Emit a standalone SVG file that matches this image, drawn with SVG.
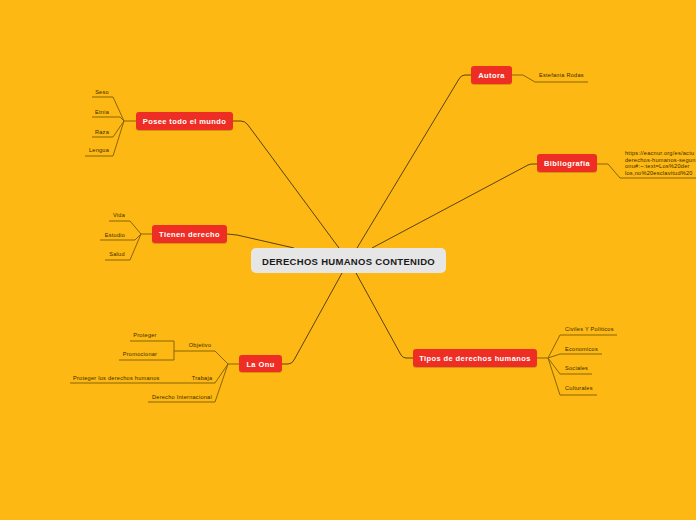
<svg xmlns="http://www.w3.org/2000/svg" width="696" height="520" viewBox="0 0 696 520">
<style>
.bg{fill:#fdb813}
.main{fill:none;stroke:#5a4310;stroke-width:1}
.sub{fill:none;stroke:#8a6508;stroke-width:1}
.box{fill:#ee2e24}
.shadow{fill:#c98d10;opacity:0.8}
.lbl{font-family:"Liberation Sans",Arial,sans-serif;font-weight:bold;font-size:7.5px;letter-spacing:0.4px;fill:#ffffff;text-anchor:middle}
.ctr{font-family:"Liberation Sans",Arial,sans-serif;font-weight:bold;font-size:9.5px;letter-spacing:0.3px;fill:#1a1a1a;text-anchor:middle}
.leaf{font-family:"Liberation Sans",Arial,sans-serif;font-size:5.6px;letter-spacing:0.25px;fill:#3a2a00}
.mid{text-anchor:middle}
</style>
<rect class="bg" x="0" y="0" width="696" height="520"/>
<g id="connectors">
  <path class="main" d="M233,121 L241,121 Q245,121 248,125 L339,248"/>
  <path class="main" d="M227,234 L237,235 L294,248"/>
  <path class="main" d="M342,273 L294,360 Q292,364 288,364 L282,364"/>
  <path class="main" d="M357,248 L459,79 Q461,75 465,75 L471,75"/>
  <path class="main" d="M372,248 L528,165 Q530,164 533,164 L537,164"/>
  <path class="main" d="M356,273 L401,355 Q403,358 406,358 L413,358"/>
  <path class="sub" d="M136,121 L124,121"/>
  <path class="sub" d="M124,121 L113,97 L92,97"/>
  <path class="sub" d="M124,121 L120,117 L92,117"/>
  <path class="sub" d="M124,121 L113,137 L92,137"/>
  <path class="sub" d="M124,121 L113,156 L85,156"/>
  <path class="sub" d="M152,234 L141,234"/>
  <path class="sub" d="M141,234 L130,221 L109,221"/>
  <path class="sub" d="M141,234 L135,240 L100,240"/>
  <path class="sub" d="M141,234 L130,260 L105,260"/>
  <path class="sub" d="M239,364 L228,364"/>
  <path class="sub" d="M228,364 L215,351 L185,351"/>
  <path class="sub" d="M185,351 L174,351"/>
  <path class="sub" d="M174,341 L174,360"/>
  <path class="sub" d="M174,341 L130,341"/>
  <path class="sub" d="M174,360 L119,360"/>
  <path class="sub" d="M228,364 L215,383 L70,383"/>
  <path class="sub" d="M228,364 L215,402 L148,402"/>
  <path class="sub" d="M512,75 L523,75 L535,82 L588,82"/>
  <path class="sub" d="M597,164 L608,164 L620,178 L696,178"/>
  <path class="sub" d="M537,358 L548,358"/>
  <path class="sub" d="M548,358 L560,335 L617,335"/>
  <path class="sub" d="M548,358 L560,354 L602,354"/>
  <path class="sub" d="M548,358 L560,374 L592,374"/>
  <path class="sub" d="M548,358 L560,395 L597,395"/>
</g>
<g id="center">
  <rect x="251" y="248" width="195" height="25" rx="5" fill="#e6e6e6"/>
  <text class="ctr" x="348.5" y="264.5">DERECHOS HUMANOS CONTENIDO</text>
</g>
<g id="posee">
  <rect class="shadow" x="136" y="113" width="97" height="18" rx="3"/>
  <rect class="box" x="136" y="112" width="97" height="18" rx="3"/>
  <text class="lbl" x="184.5" y="124">Posee todo el mundo</text>
</g>
<g id="tienen">
  <rect class="shadow" x="152" y="226" width="75" height="18" rx="3"/>
  <rect class="box" x="152" y="225" width="75" height="18" rx="3"/>
  <text class="lbl" x="189.5" y="237">Tienen derecho</text>
</g>
<g id="onu">
  <rect class="shadow" x="239" y="356" width="43" height="17" rx="3"/>
  <rect class="box" x="239" y="355" width="43" height="17" rx="3"/>
  <text class="lbl" x="260.5" y="366.5">La Onu</text>
</g>
<g id="autora">
  <rect class="shadow" x="471" y="67" width="41" height="18" rx="3"/>
  <rect class="box" x="471" y="66" width="41" height="18" rx="3"/>
  <text class="lbl" x="491.5" y="78">Autora</text>
</g>
<g id="bibliografia">
  <rect class="shadow" x="537" y="155" width="60" height="18" rx="3"/>
  <rect class="box" x="537" y="154" width="60" height="18" rx="3"/>
  <text class="lbl" x="567" y="166">Bibliografia</text>
</g>
<g id="tipos">
  <rect class="shadow" x="413" y="350" width="124" height="18" rx="3"/>
  <rect class="box" x="413" y="349" width="124" height="18" rx="3"/>
  <text class="lbl" x="475" y="361">Tipos de derechos humanos</text>
</g>
<g id="leaves">
  <text class="leaf mid" x="102" y="94">Seso</text>
  <text class="leaf mid" x="102" y="114">Etnia</text>
  <text class="leaf mid" x="102" y="134">Raza</text>
  <text class="leaf mid" x="99" y="152">Lengua</text>
  <text class="leaf mid" x="119" y="217">Vida</text>
  <text class="leaf mid" x="115" y="237">Estudio</text>
  <text class="leaf mid" x="117" y="256">Salud</text>
  <text class="leaf mid" x="145" y="337">Proteger</text>
  <text class="leaf mid" x="140" y="356">Promocionar</text>
  <text class="leaf mid" x="200" y="347">Objetivo</text>
  <text class="leaf mid" x="202" y="380">Trabaja</text>
  <text class="leaf" x="73" y="380">Proteger los derechos humanos</text>
  <text class="leaf mid" x="182" y="399">Derecho Internacional</text>
  <text class="leaf" x="539" y="77">Estefania Rodas</text>
  <text class="leaf" x="625" y="155" font-size="5.3" letter-spacing="0.1">https://eacnur.org/es/actu</text>
  <text class="leaf" x="625" y="161.5" font-size="5.3" letter-spacing="0.1">derechos-humanos-segun</text>
  <text class="leaf" x="625" y="168" font-size="5.3" letter-spacing="0.1">onu#:~:text=Los%20der</text>
  <text class="leaf" x="625" y="174.5" font-size="5.3" letter-spacing="0.1">los,no%20esclavitud%20</text>
  <text class="leaf" x="565" y="331">Civiles Y Politicos</text>
  <text class="leaf" x="565" y="351">Economicos</text>
  <text class="leaf" x="565" y="370">Sociales</text>
  <text class="leaf" x="565" y="390">Culturales</text>
</g>
</svg>
